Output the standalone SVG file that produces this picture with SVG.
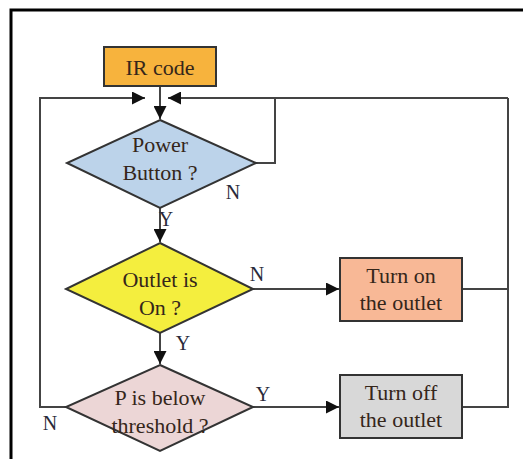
<svg xmlns="http://www.w3.org/2000/svg" width="523" height="459" viewBox="0 0 523 459">
<defs>
<marker id="ah" viewBox="0 0 10 10" refX="10" refY="5" markerWidth="13" markerHeight="13" markerUnits="userSpaceOnUse" orient="auto">
<path d="M0,0 L10,5 L0,10 Z" fill="#111"/>
</marker>
<style>
.t{font-family:"Liberation Serif","Times New Roman",serif;font-size:22px;fill:#35261a;text-anchor:middle}
.l{font-family:"Liberation Serif","Times New Roman",serif;font-size:20px;fill:#2a2a3a;text-anchor:middle}
.c{fill:none;stroke:#444;stroke-width:2}
.n{stroke:#333;stroke-width:2}
</style>
</defs>
<rect width="523" height="459" fill="#fff"/>
<path d="M11,459 L11,10 L523,10" fill="none" stroke="#000" stroke-width="3"/>
<g id="connectors">
<path class="c" d="M160,86 L160,119" marker-end="url(#ah)"/>
<path class="c" d="M66,407 L40,407 L40,98 L145,98" marker-end="url(#ah)"/>
<path class="c" d="M508,98 L168,98" marker-end="url(#ah)"/>
<path class="c" d="M256,163 L275,163 L275,98"/>
<path class="c" d="M160,208 L160,242" marker-end="url(#ah)"/>
<path class="c" d="M253,289 L339,289" marker-end="url(#ah)"/>
<path class="c" d="M462,289 L508,289"/>
<path class="c" d="M160,333 L160,364" marker-end="url(#ah)"/>
<path class="c" d="M253,407 L339,407" marker-end="url(#ah)"/>
<path class="c" d="M462,407 L508,407 L508,98"/>
<text class="l" x="233" y="199">N</text>
<text class="l" x="166" y="226">Y</text>
<text class="l" x="257" y="281">N</text>
<text class="l" x="183" y="350">Y</text>
<text class="l" x="263" y="401">Y</text>
<text class="l" x="50" y="430">N</text>
</g>
<g id="ir-code">
<rect class="n" x="104" y="47" width="112" height="39" fill="#f7b33d"/>
<text class="t" x="160" y="75">IR code</text>
</g>
<g id="power-button">
<polygon class="n" points="160,120 256,163 160,208 67,163" fill="#bcd3ea"/>
<text class="t" x="160" y="152">Power</text>
<text class="t" x="160" y="180">Button ?</text>
</g>
<g id="outlet-is-on">
<polygon class="n" points="160,243 253,289 160,333 66,289" fill="#f4ee3e"/>
<text class="t" x="160" y="287">Outlet is</text>
<text class="t" x="160" y="315">On ?</text>
</g>
<g id="turn-on">
<rect class="n" x="340" y="258" width="122" height="63" fill="#f8b896"/>
<text class="t" x="401" y="283">Turn on</text>
<text class="t" x="401" y="310">the outlet</text>
</g>
<g id="p-below">
<polygon class="n" points="160,365 253,407 160,451 66,407" fill="#ecd6d6"/>
<text class="t" x="160" y="405">P is below</text>
<text class="t" x="160" y="433">threshold ?</text>
</g>
<g id="turn-off">
<rect class="n" x="340" y="375" width="122" height="63" fill="#d8d8d8"/>
<text class="t" x="401" y="400">Turn off</text>
<text class="t" x="401" y="427">the outlet</text>
</g>
</svg>
